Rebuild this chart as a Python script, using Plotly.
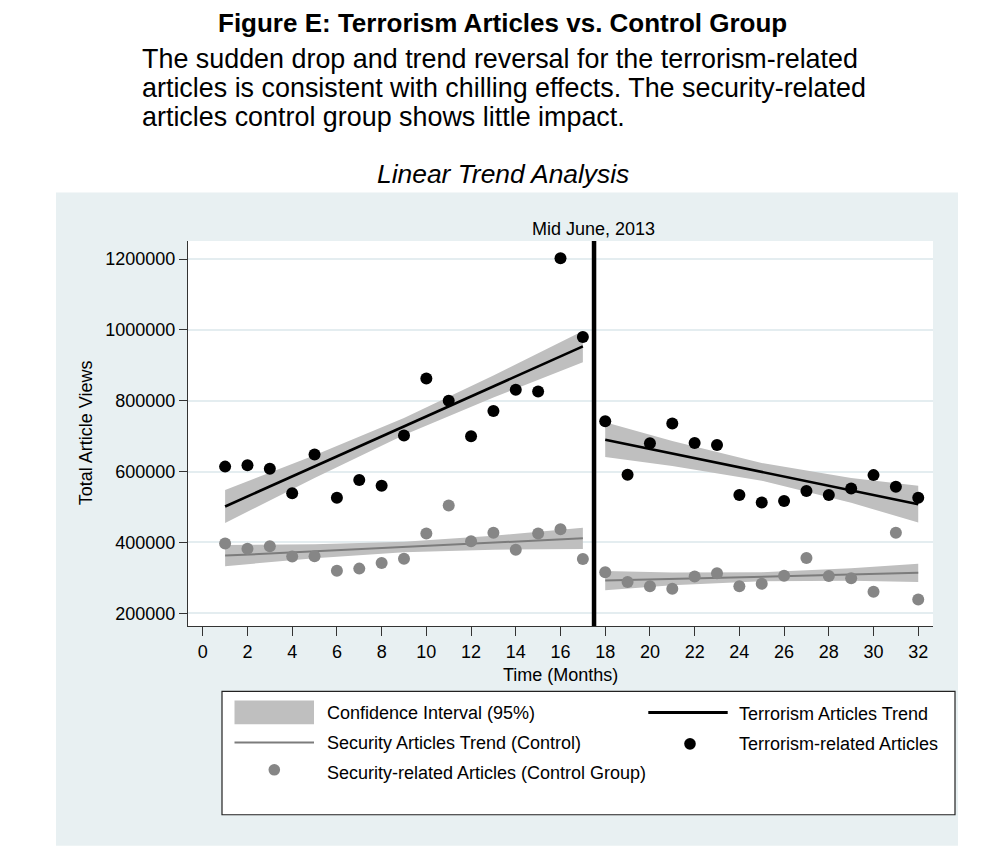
import plotly.graph_objects as go

# ---------------- data ----------------
months_pre = list(range(1, 18))
months_post = list(range(18, 33))

terror_pre = [614000, 618000, 608000, 539000, 648000, 526000, 576000, 560000,
              702000, 863000, 800000, 700000, 771000, 831000, 826000, 1202000, 980000]
terror_post = [742000, 591000, 680000, 736000, 681000, 675000, 534000, 513000,
               517000, 545000, 534000, 552000, 590000, 557000, 526000]

security_pre = [397000, 382000, 389000, 360000, 361000, 320000, 326000, 342000,
                354000, 425000, 504000, 403000, 427000, 379000, 425000, 437000, 353000]
security_post = [316000, 288000, 276000, 269000, 304000, 313000, 276000, 283000,
                 306000, 356000, 305000, 299000, 261000, 427000, 239000]

# linear trend + 95% CI, read at a few x positions
ci_x_pre = [1, 5, 9, 13, 17]
ci_x_post = [18, 21, 25, 29, 32]

terror_trend_pre = [501500, 614500, 727500, 840500, 953500]
terror_upper_pre = [548000, 646000, 751000, 871000, 997000]
terror_lower_pre = [455000, 582000, 703000, 809000, 909000]

terror_trend_post = [690000, 651000, 599000, 547000, 508000]
terror_upper_post = [739000, 686000, 624000, 582000, 560000]
terror_lower_post = [641000, 616000, 574000, 512000, 456000]

security_trend_pre = [362700, 374900, 387100, 399300, 411500]
security_upper_pre = [393000, 395000, 402000, 419000, 441500]
security_lower_pre = [333000, 355000, 372000, 379500, 381500]

security_trend_post = [292400, 297000, 303200, 309400, 314000]
security_upper_post = [319000, 315000, 316000, 327000, 340000]
security_lower_post = [265000, 279000, 290000, 291500, 288000]

break_month = 17.5
x_ticks = list(range(0, 33, 2))
y_ticks = [200000, 400000, 600000, 800000, 1000000, 1200000]

title = "Figure E: Terrorism Articles vs. Control Group"
subtitle_lines = [
    "The sudden drop and trend reversal for the terrorism-related",
    "articles is consistent with chilling effects. The security-related",
    "articles control group shows little impact.",
]
subtitle2 = "Linear Trend Analysis"
break_label = "Mid June, 2013"

# ---------------- styling ----------------
OFF = 8                      # page body margin of the html page
W, H = 996 - 2 * OFF, 863 - 2 * OFF
PL, PR, PT, PB = 188, 933, 240.5, 626   # plot area in page pixels
FONT = "Liberation Sans, Arial, Helvetica, sans-serif"
PANEL = "#e8f0f2"
GRID = "#e4edf0"
BAND = "#bfbfbf"
GRAYPT = "#868686"
GRAYLN = "#7c7c7c"


def px(x):
    return (x - PL) / (PR - PL)


def py(y):
    return (PB - y) / (PB - PT)


fig = go.Figure()


def band(xs, up, lo):
    fig.add_trace(go.Scatter(x=xs + xs[::-1], y=up + lo[::-1], fill="toself",
                             fillcolor=BAND, line=dict(width=0), mode="lines",
                             hoverinfo="skip", showlegend=False))


band(ci_x_pre, terror_upper_pre, terror_lower_pre)
band(ci_x_post, terror_upper_post, terror_lower_post)
band(ci_x_pre, security_upper_pre, security_lower_pre)
band(ci_x_post, security_upper_post, security_lower_post)

for xs, ys in [(ci_x_pre, terror_trend_pre), (ci_x_post, terror_trend_post)]:
    fig.add_trace(go.Scatter(x=xs, y=ys, mode="lines", line=dict(color="black", width=2.6),
                             showlegend=False))
for xs, ys in [(ci_x_pre, security_trend_pre), (ci_x_post, security_trend_post)]:
    fig.add_trace(go.Scatter(x=xs, y=ys, mode="lines", line=dict(color=GRAYLN, width=2),
                             showlegend=False))

fig.add_trace(go.Scatter(x=months_pre + months_post, y=security_pre + security_post,
                         mode="markers", marker=dict(color=GRAYPT, size=12, line=dict(width=0)),
                         showlegend=False))
fig.add_trace(go.Scatter(x=months_pre + months_post, y=terror_pre + terror_post,
                         mode="markers", marker=dict(color="black", size=12, line=dict(width=0)),
                         showlegend=False))

shapes = [
    # outer graph region
    dict(type="rect", xref="paper", yref="paper", x0=px(56), x1=px(958), y0=py(846), y1=py(192),
         fillcolor=PANEL, line=dict(width=0), layer="below"),
    # plot region
    dict(type="rect", xref="paper", yref="paper", x0=0, x1=1, y0=0, y1=1,
         fillcolor="white", line=dict(width=0), layer="below"),
    # break line
    dict(type="line", xref="x", yref="paper", x0=break_month, x1=break_month, y0=0, y1=1,
         line=dict(color="black", width=4.5), layer="above"),
    # legend box
    dict(type="rect", xref="paper", yref="paper", x0=px(222), x1=px(955), y0=py(815), y1=py(691.5),
         fillcolor="white", line=dict(color="#222", width=1.2), layer="above"),
    dict(type="rect", xref="paper", yref="paper", x0=px(234.5), x1=px(314), y0=py(724.5), y1=py(700.5),
         fillcolor=BAND, line=dict(width=0), layer="above"),
    dict(type="line", xref="paper", yref="paper", x0=px(234.5), x1=px(314), y0=py(742.7), y1=py(742.7),
         line=dict(color=GRAYLN, width=2), layer="above"),
    dict(type="line", xref="paper", yref="paper", x0=px(648.3), x1=px(727.7), y0=py(712.7), y1=py(712.7),
         line=dict(color="black", width=3), layer="above"),
]
for cx, cy, col in [(274.3, 770, GRAYPT), (690, 744, "black")]:
    r = 5.8
    shapes.append(dict(type="circle", xref="paper", yref="paper", x0=px(cx - r), x1=px(cx + r),
                       y0=py(cy + r), y1=py(cy - r), fillcolor=col, line=dict(width=0), layer="above"))

ann = []


def text(t, x, y, size, xanchor="center", angle=0, color="black"):
    ann.append(dict(text=t, x=px(x), y=py(y), xref="paper", yref="paper", showarrow=False,
                    xanchor=xanchor, yanchor="middle", textangle=angle,
                    font=dict(family=FONT, size=size, color=color)))


text("<b>" + title + "</b>", 502, 22, 26)
for i, line in enumerate(subtitle_lines):
    text(line, 140, 58 + 29 * i, 26.9, xanchor="left")
text("<i>" + subtitle2 + "</i>", 503, 173, 26.4)
text(break_label, 593.7, 228.5, 18)
text("Total Article Views", 86, 433, 18, angle=-90)
text("Time (Months)", 560.5, 675, 18)
text("Confidence Interval (95%)", 325, 713, 18, xanchor="left")
text("Security Articles Trend (Control)", 325, 743.5, 18, xanchor="left")
text("Security-related Articles (Control Group)", 325, 773.5, 18, xanchor="left")
text("Terrorism Articles Trend", 736.5, 714, 18, xanchor="left")
text("Terrorism-related Articles", 736.5, 744, 18, xanchor="left")

fig.update_layout(
    width=W, height=H,
    margin=dict(l=PL - OFF, r=W - (PR - OFF), t=PT - OFF, b=H - (PB - OFF), pad=0),
    paper_bgcolor="white", plot_bgcolor="rgba(0,0,0,0)",
    shapes=shapes, annotations=ann, showlegend=False,
    font=dict(family=FONT, size=18, color="black"),
    xaxis=dict(range=[-0.66, 32.66], tickvals=x_ticks, ticks="outside", ticklen=9, tickwidth=1.3,
               tickcolor="#333", showline=True, linecolor="#333", linewidth=1.3,
               showgrid=False, zeroline=False, tickfont=dict(size=18)),
    yaxis=dict(range=[164000, 1251000], tickvals=y_ticks, ticks="outside", ticklen=8, tickwidth=1.3,
               tickcolor="#333", showline=True, linecolor="#333", linewidth=1.3,
               showgrid=True, gridcolor=GRID, gridwidth=1.5, zeroline=False,
               tickfont=dict(size=18), tickformat="d"),
)

fig.write_html("out.html")
